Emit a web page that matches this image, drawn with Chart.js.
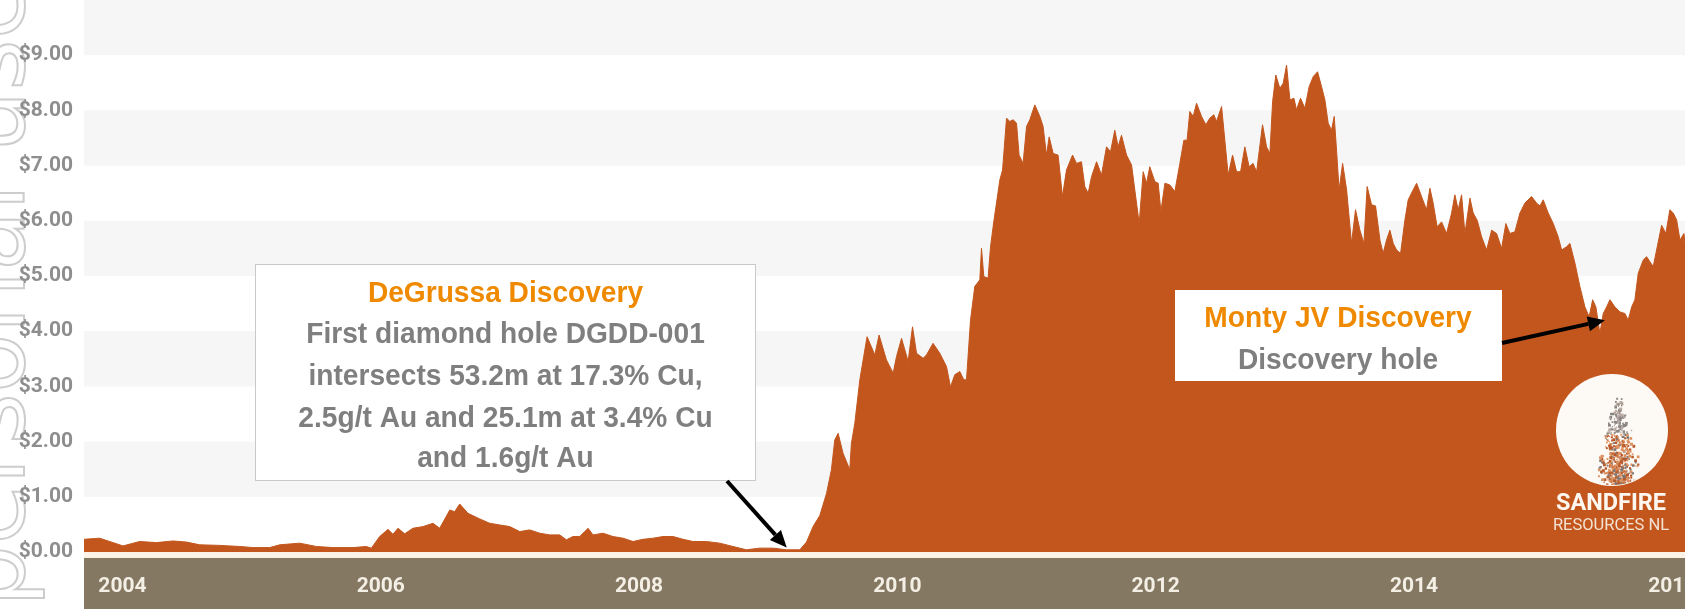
<!DOCTYPE html>
<html>
<head>
<meta charset="utf-8">
<script src="https://cdn.jsdelivr.net/npm/chart.js@4.4.1/dist/chart.umd.min.js"></script>
<style>
  html, body { margin: 0; padding: 0; background: #ffffff; overflow: hidden; }
  canvas { display: block; }
</style>
</head>
<body>
<canvas id="chart" width="1685" height="609"></canvas>
<script>
// ---------- DATA (decimal year, share price A$) ----------
const years = [
  2003.889, 2004.010, 2004.088, 2004.191, 2004.320, 2004.449, 2004.578, 2004.682, 2004.785, 2004.939,
  2005.094, 2005.197, 2005.327, 2005.404, 2005.559, 2005.688, 2005.817, 2005.972, 2006.075, 2006.114,
  2006.178, 2006.243, 2006.281, 2006.320, 2006.372, 2006.436, 2006.514, 2006.591, 2006.643, 2006.721,
  2006.759, 2006.798, 2006.862, 2006.953, 2007.030, 2007.108, 2007.185, 2007.263, 2007.340, 2007.418,
  2007.495, 2007.572, 2007.624, 2007.675, 2007.727, 2007.792, 2007.830, 2007.908, 2007.985, 2008.063,
  2008.140, 2008.217, 2008.295, 2008.372, 2008.450, 2008.527, 2008.605, 2008.708, 2008.811, 2008.914,
  2009.018, 2009.121, 2009.224, 2009.328, 2009.431, 2009.483, 2009.534, 2009.586, 2009.638, 2009.676,
  2009.702, 2009.728, 2009.766, 2009.818, 2009.831, 2009.857, 2009.896, 2009.952, 2010.012, 2010.045,
  2010.102, 2010.154, 2010.180, 2010.219, 2010.270, 2010.304, 2010.335, 2010.386, 2010.412, 2010.463,
  2010.515, 2010.567, 2010.598, 2010.631, 2010.670, 2010.701, 2010.722, 2010.753, 2010.786, 2010.825,
  2010.838, 2010.856, 2010.889, 2010.908, 2010.933, 2010.980, 2011.001, 2011.032, 2011.057, 2011.083,
  2011.109, 2011.129, 2011.160, 2011.187, 2011.212, 2011.251, 2011.290, 2011.315, 2011.341, 2011.362,
  2011.393, 2011.431, 2011.465, 2011.496, 2011.543, 2011.574, 2011.612, 2011.638, 2011.664, 2011.690,
  2011.729, 2011.767, 2011.806, 2011.837, 2011.870, 2011.896, 2011.922, 2011.961, 2012.000, 2012.025,
  2012.059, 2012.090, 2012.116, 2012.141, 2012.180, 2012.206, 2012.227, 2012.258, 2012.296, 2012.335,
  2012.374, 2012.405, 2012.430, 2012.451, 2012.477, 2012.503, 2012.542, 2012.575, 2012.606, 2012.637,
  2012.658, 2012.697, 2012.722, 2012.748, 2012.782, 2012.813, 2012.844, 2012.877, 2012.910, 2012.941,
  2012.968, 2013.014, 2013.045, 2013.071, 2013.092, 2013.117, 2013.148, 2013.174, 2013.200, 2013.226,
  2013.257, 2013.277, 2013.308, 2013.342, 2013.375, 2013.406, 2013.440, 2013.471, 2013.497, 2013.522,
  2013.548, 2013.569, 2013.587, 2013.607, 2013.634, 2013.665, 2013.703, 2013.734, 2013.768, 2013.799,
  2013.824, 2013.858, 2013.889, 2013.923, 2013.948, 2013.974, 2014.000, 2014.026, 2014.052, 2014.083,
  2014.116, 2014.142, 2014.180, 2014.207, 2014.245, 2014.284, 2014.310, 2014.335, 2014.366, 2014.400,
  2014.439, 2014.478, 2014.503, 2014.529, 2014.555, 2014.581, 2014.620, 2014.645, 2014.676, 2014.710,
  2014.749, 2014.788, 2014.826, 2014.865, 2014.898, 2014.929, 2014.968, 2015.007, 2015.045, 2015.097,
  2015.136, 2015.162, 2015.187, 2015.226, 2015.265, 2015.303, 2015.330, 2015.368, 2015.394, 2015.433,
  2015.471, 2015.510, 2015.543, 2015.570, 2015.595, 2015.626, 2015.652, 2015.678, 2015.704, 2015.742,
  2015.781, 2015.820, 2015.845, 2015.872, 2015.897, 2015.923, 2015.962, 2015.988, 2016.013, 2016.039,
  2016.065, 2016.104, 2016.137, 2016.168, 2016.194, 2016.220, 2016.246, 2016.277, 2016.285
];
const prices = [
  0.23, 0.25, 0.19, 0.11, 0.19, 0.17, 0.20, 0.18, 0.13, 0.12,
  0.10, 0.08, 0.08, 0.13, 0.16, 0.10, 0.08, 0.08, 0.10, 0.07,
  0.28, 0.41, 0.32, 0.43, 0.33, 0.43, 0.46, 0.52, 0.43, 0.76,
  0.73, 0.87, 0.70, 0.60, 0.52, 0.49, 0.46, 0.37, 0.40, 0.34,
  0.31, 0.31, 0.22, 0.28, 0.28, 0.43, 0.31, 0.34, 0.28, 0.25,
  0.19, 0.23, 0.25, 0.28, 0.28, 0.23, 0.19, 0.19, 0.16, 0.10,
  0.04, 0.07, 0.07, 0.04, 0.04, 0.18, 0.46, 0.66, 1.06, 1.49,
  2.03, 2.15, 1.79, 1.49, 1.97, 2.33, 3.12, 3.90, 3.57, 3.93,
  3.48, 3.24, 3.54, 3.87, 3.45, 4.08, 3.60, 3.51, 3.57, 3.78,
  3.60, 3.36, 2.99, 3.21, 3.27, 3.12, 3.12, 4.20, 4.81, 4.93,
  5.50, 4.99, 4.96, 5.53, 5.98, 6.74, 6.92, 7.86, 7.80, 7.83,
  7.77, 7.19, 7.04, 7.71, 7.83, 8.10, 7.89, 7.71, 7.19, 7.52,
  7.22, 7.19, 6.44, 6.92, 7.19, 7.04, 7.07, 6.62, 6.50, 6.80,
  7.07, 6.83, 7.34, 7.25, 7.64, 7.34, 7.55, 7.19, 7.01, 6.56,
  5.95, 6.89, 6.68, 6.98, 6.71, 6.68, 6.17, 6.68, 6.65, 6.53,
  7.04, 7.46, 7.46, 7.98, 7.89, 8.13, 7.89, 7.74, 7.86, 7.92,
  7.80, 8.07, 7.46, 6.83, 7.19, 6.89, 6.89, 7.34, 6.98, 7.04,
  6.89, 7.74, 7.34, 7.22, 8.16, 8.64, 8.40, 8.49, 8.82, 8.19,
  8.22, 8.01, 8.22, 8.04, 8.43, 8.61, 8.70, 8.43, 8.19, 7.77,
  7.64, 7.89, 7.28, 6.56, 7.04, 6.56, 5.59, 6.20, 5.83, 5.59,
  6.62, 6.29, 6.27, 5.65, 5.41, 5.65, 5.83, 5.59, 5.47, 5.41,
  6.01, 6.38, 6.56, 6.68, 6.44, 6.20, 6.59, 6.32, 5.89, 5.98,
  5.77, 6.14, 6.47, 6.20, 6.47, 5.77, 6.41, 6.14, 6.01, 5.71,
  5.47, 5.83, 5.77, 5.50, 5.95, 5.77, 5.80, 6.14, 6.32, 6.44,
  6.32, 6.27, 6.38, 6.14, 5.95, 5.71, 5.47, 5.53, 5.59, 5.23,
  4.81, 4.44, 4.26, 4.57, 4.44, 3.96, 4.32, 4.44, 4.57, 4.44,
  4.35, 4.32, 4.20, 4.44, 4.57, 5.05, 5.29, 5.35, 5.26, 5.17,
  5.47, 5.92, 5.77, 6.20, 6.14, 6.02, 5.65, 5.77, 5.60
];
const xTickYears = [2004, 2006, 2008, 2010, 2012, 2014, 2016];
const yTickValues = [0, 1, 2, 3, 4, 5, 6, 7, 8, 9];
const shadedBands = [[1, 2], [3, 4], [5, 6], [7, 8], [9, 10]];
const X_MIN = 2003.889, X_MAX = 2016.285, Y_MIN = 0, Y_MAX = 10;

const degrussaLines = [
  'DeGrussa Discovery',
  'First diamond hole DGDD-001',
  'intersects 53.2m at 17.3% Cu,',
  '2.5g/t Au and 25.1m at 3.4% Cu',
  'and 1.6g/t Au'
];
const montyLines = ['Monty JV Discovery', 'Discovery hole'];
const degrussaPoint = { x: 2009.33, y: 0.08 };
const montyPoint = { x: 2015.665, y: 4.2 };

// ---------- STYLE ----------
const AREA = '#c3561d';
const ORANGE = '#ef8a00';
const GREY_TXT = '#7f7f7f';

function drawCallText(ctx, text, cx, baseline, color) {
  ctx.save();
  ctx.translate(cx, baseline);
  ctx.scale(0.97, 1);
  ctx.font = 'bold 29px "Liberation Sans", Arial, sans-serif';
  ctx.textAlign = 'center';
  ctx.textBaseline = 'alphabetic';
  ctx.fillStyle = color;
  ctx.fillText(text, 0, 0);
  ctx.restore();
}

function drawArrow(ctx, x1, y1, x2, y2) {
  const ang = Math.atan2(y2 - y1, x2 - x1);
  const headLen = 17, headW = 7.5;
  const bx = x2 - headLen * Math.cos(ang), by = y2 - headLen * Math.sin(ang);
  ctx.save();
  ctx.strokeStyle = '#000';
  ctx.fillStyle = '#000';
  ctx.lineWidth = 4;
  ctx.beginPath();
  ctx.moveTo(x1, y1);
  ctx.lineTo(bx, by);
  ctx.stroke();
  ctx.beginPath();
  ctx.moveTo(x2, y2);
  ctx.lineTo(bx + headW * Math.sin(ang), by - headW * Math.cos(ang));
  ctx.lineTo(bx - headW * Math.sin(ang), by + headW * Math.cos(ang));
  ctx.closePath();
  ctx.fill();
  ctx.restore();
}

const backgroundPlugin = {
  id: 'background',
  beforeDraw(chart) {
    const { ctx, chartArea: a, scales: { y } } = chart;
    ctx.save();
    ctx.fillStyle = '#ffffff';
    ctx.fillRect(0, 0, chart.width, chart.height);

    // watermark (outlined rotated text)
    ctx.save();
    ctx.translate(24, 609);
    ctx.rotate(-Math.PI / 2);
    ctx.font = '98px "DejaVu Sans", sans-serif';
    ctx.textBaseline = 'alphabetic';
    const lead = ctx.measureText('For ').width;
    ctx.strokeStyle = '#cdcdcd';
    ctx.lineWidth = 2;
    ctx.strokeText('For personal use only', 2 - lead, 0);
    ctx.restore();

    // alternating horizontal bands
    ctx.fillStyle = '#f6f6f6';
    shadedBands.forEach(([lo, hi]) => {
      const t = y.getPixelForValue(hi), b = y.getPixelForValue(lo);
      ctx.fillRect(a.left, t, a.right - a.left, b - t);
    });

    // x-axis band
    ctx.fillStyle = '#fbf2e8';
    ctx.fillRect(a.left, a.bottom, a.right - a.left, 6);
    ctx.fillStyle = '#857862';
    ctx.fillRect(a.left, a.bottom + 6, a.right - a.left, chart.height - a.bottom - 6);
    ctx.restore();
  }
};

// deterministic texture hash for the logo speckles (decoration only)
function h(i, k) {
  const s = Math.sin(i * 127.1 + k * 311.7) * 43758.5453;
  return s - Math.floor(s);
}

function drawLogo(ctx) {
  const cx = 1612, cy = 430, r = 56;
  ctx.fillStyle = '#fdfaf6';
  ctx.beginPath();
  ctx.arc(cx, cy, r, 0, Math.PI * 2);
  ctx.fill();
  ctx.save();
  ctx.beginPath();
  ctx.arc(cx, cy, r - 1, 0, Math.PI * 2);
  ctx.clip();
  for (let i = 0; i < 520; i++) {
    const t = Math.sqrt(h(i, 1));                 // 0 top -> 1 bottom
    const yy = 392 + 92 * t;
    let w = 3 + 19 * t;
    if (t > 0.8) w *= 1 - (t - 0.8) * 2.2;
    const s = h(i, 2) + h(i, 3) - 1;              // centred spread
    const xx = cx + 4 + 3 * (1 - t) + s * w * 1.3;
    const sz = 1.0 + h(i, 4) * 2.0;
    const c = h(i, 5);
    if (t < 0.45) ctx.fillStyle = c < 0.6 ? '#8a8482' : '#b9a8a0';
    else ctx.fillStyle = c < 0.22 ? '#7e7876' : (c < 0.55 ? '#b85a2a' : '#dc9262');
    ctx.fillRect(xx, yy, sz, sz);
  }
  ctx.restore();
  ctx.textAlign = 'center';
  ctx.textBaseline = 'alphabetic';
  ctx.fillStyle = '#fdf7f0';
  ctx.font = 'bold 23.5px Roboto, "DejaVu Sans", sans-serif';
  ctx.fillText('SANDFIRE', 1611, 510);
  ctx.fillStyle = '#f3e2d3';
  ctx.font = '16.5px Roboto, "DejaVu Sans", sans-serif';
  ctx.fillText('RESOURCES NL', 1611, 529.5);
}

const annotationPlugin = {
  id: 'annotations',
  afterDraw(chart) {
    const { ctx, scales: { x, y } } = chart;
    ctx.save();

    // DeGrussa callout
    ctx.fillStyle = '#ffffff';
    ctx.fillRect(255, 264, 500, 217);
    ctx.strokeStyle = '#c9c9c9';
    ctx.lineWidth = 1;
    ctx.strokeRect(255.5, 264.5, 500, 216);
    const dgBase = [302, 343, 385, 426.5, 467];
    degrussaLines.forEach((t, i) => drawCallText(ctx, t, 505.5, dgBase[i], i === 0 ? ORANGE : GREY_TXT));
    drawArrow(ctx, 727, 481, x.getPixelForValue(degrussaPoint.x), y.getPixelForValue(degrussaPoint.y));

    // Monty callout
    ctx.fillStyle = '#ffffff';
    ctx.fillRect(1175, 290, 327, 91);
    drawCallText(ctx, montyLines[0], 1338, 327, ORANGE);
    drawCallText(ctx, montyLines[1], 1338, 369, GREY_TXT);
    drawArrow(ctx, 1502, 343, x.getPixelForValue(montyPoint.x), y.getPixelForValue(montyPoint.y));

    drawLogo(ctx);
    ctx.restore();
  }
};

const zeroPadding = s => { s.paddingLeft = 0; s.paddingRight = 0; s.paddingTop = 0; s.paddingBottom = 0; };

const points = years.map((xv, i) => ({ x: xv, y: prices[i] }));

new Chart(document.getElementById('chart').getContext('2d'), {
  type: 'line',
  data: {
    datasets: [{
      data: points,
      fill: 'origin',
      backgroundColor: AREA,
      borderColor: AREA,
      borderWidth: 1,
      pointRadius: 0,
      tension: 0
    }]
  },
  options: {
    responsive: false,
    animation: false,
    devicePixelRatio: 1,
    events: [],
    layout: { padding: 0, autoPadding: false },
    plugins: { legend: { display: false }, tooltip: { enabled: false } },
    scales: {
      x: {
        type: 'linear',
        min: X_MIN,
        max: X_MAX,
        grid: { display: false, drawTicks: false },
        border: { display: false },
        afterBuildTicks: s => { s.ticks = xTickYears.map(v => ({ value: v })); },
        afterFit: s => { s.height = 57; zeroPadding(s); },
        ticks: {
          align: 'start',
          autoSkip: false,
          maxRotation: 0,
          minRotation: 0,
          padding: 22,
          color: '#f4efe5',
          font: { family: 'Roboto', weight: 'bold', size: 21 },
          callback: v => String(v)
        }
      },
      y: {
        min: Y_MIN,
        max: Y_MAX,
        grid: { display: false, drawTicks: false },
        border: { display: false },
        afterBuildTicks: s => { s.ticks = yTickValues.map(v => ({ value: v })); },
        afterFit: s => { s.width = 84; zeroPadding(s); },
        ticks: {
          padding: 11,
          color: '#8e8e8e',
          font: { family: 'Roboto', weight: 'bold', size: 21 },
          callback: v => '$' + Number(v).toFixed(2)
        }
      }
    }
  },
  plugins: [backgroundPlugin, annotationPlugin]
});
</script>
</body>
</html>
